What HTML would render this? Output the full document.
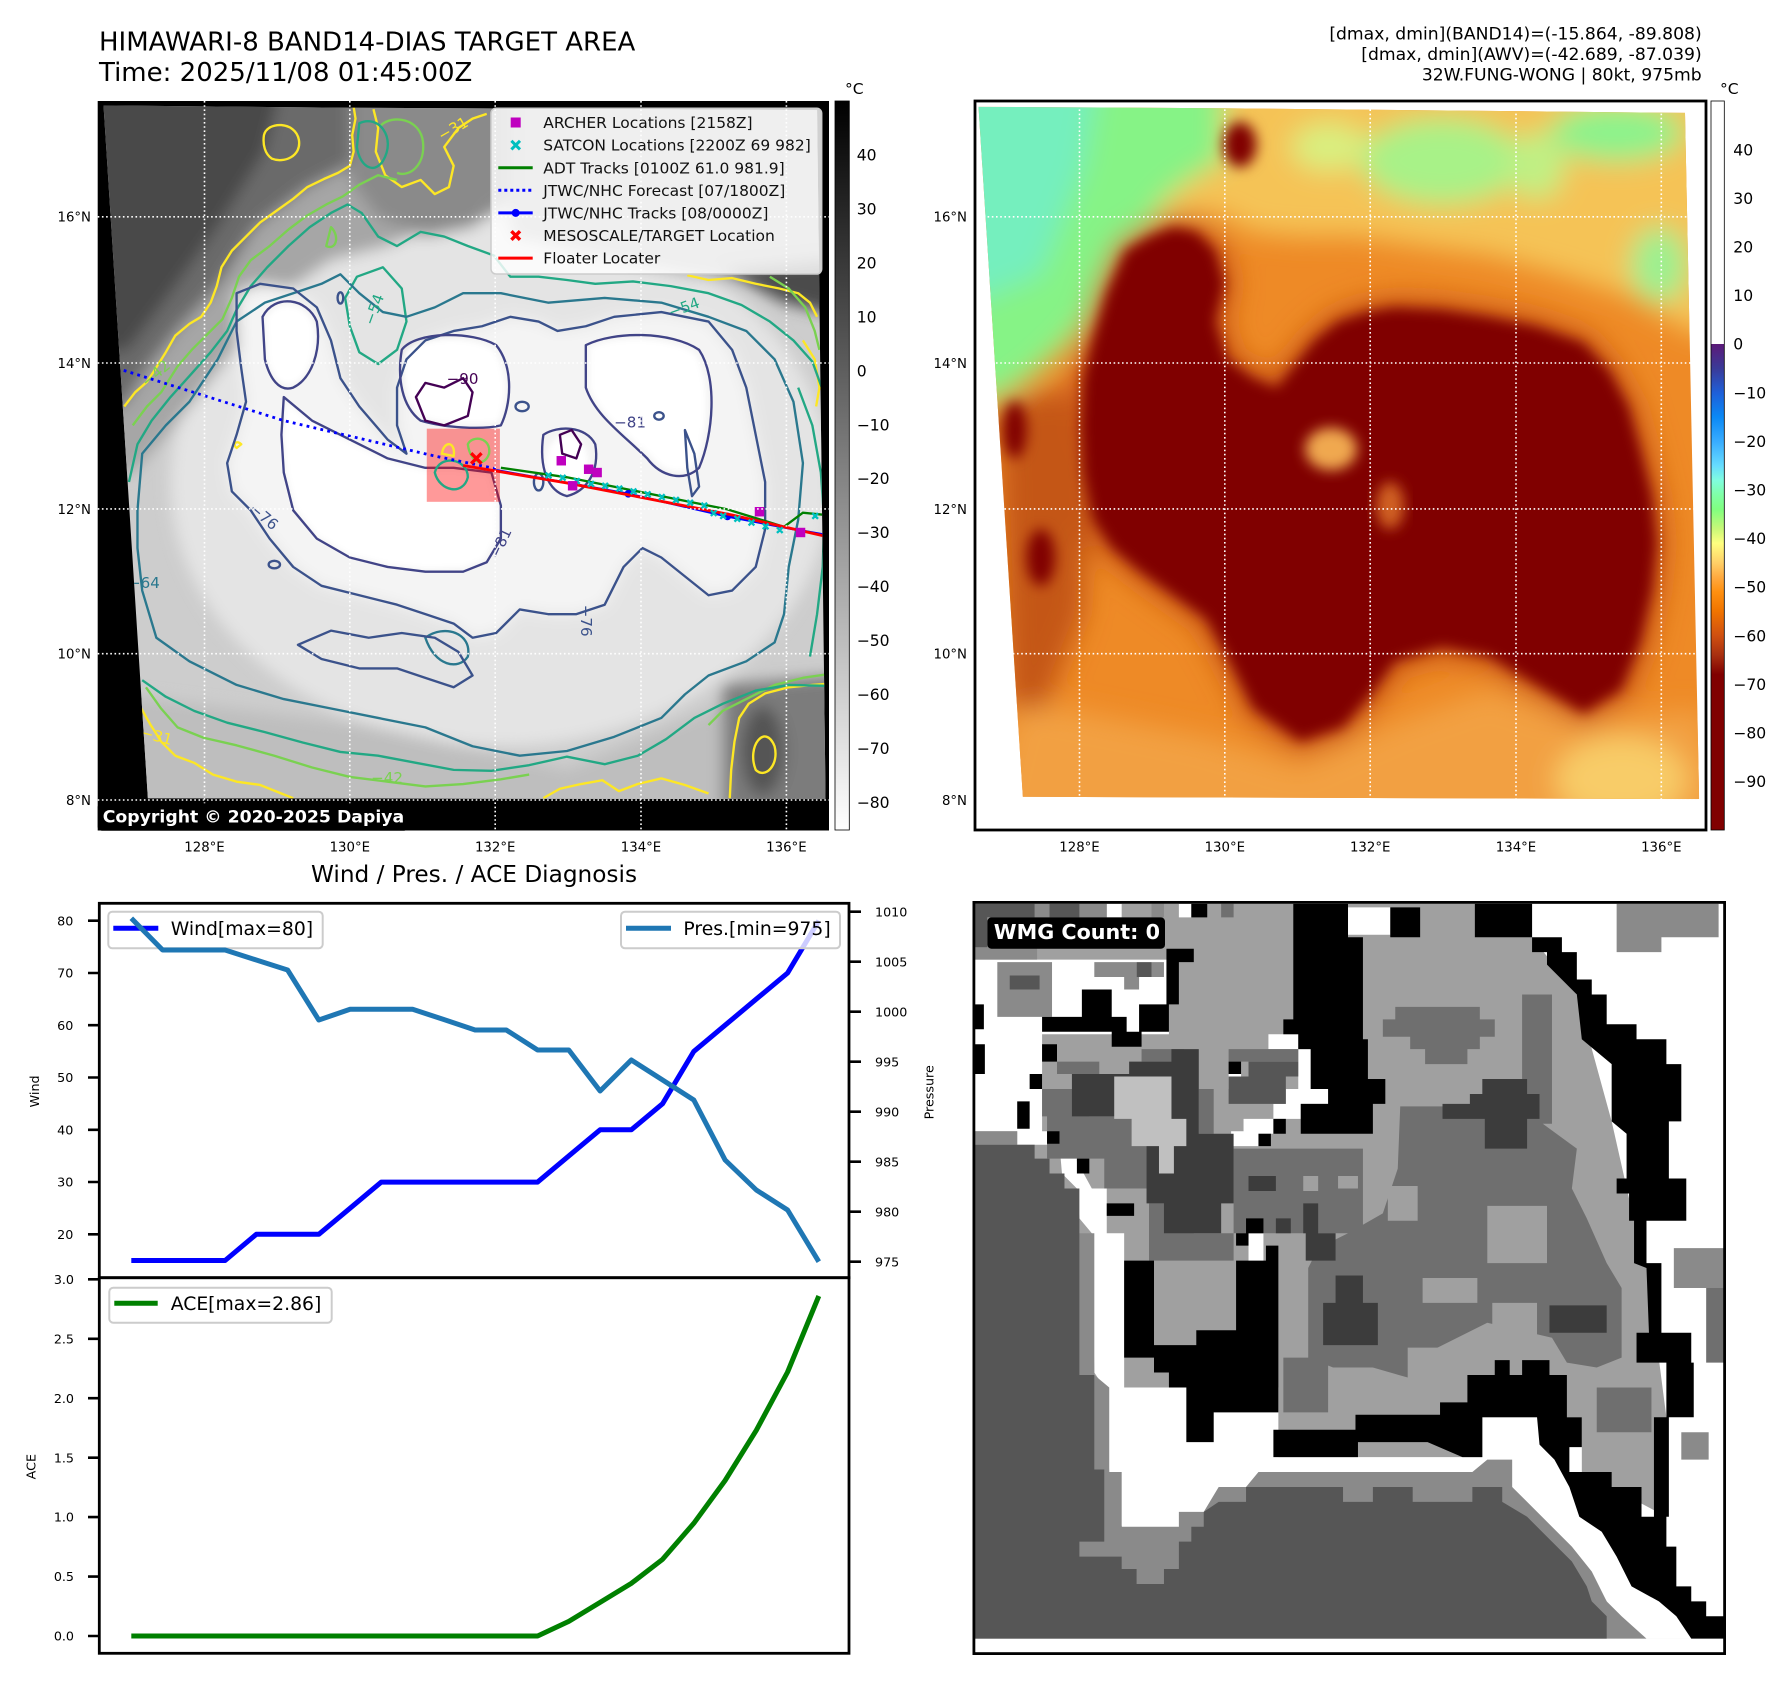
<!DOCTYPE html>
<html><head><meta charset="utf-8">
<style>
html,body{margin:0;padding:0;background:#fff;}
svg{display:block;font-family:"DejaVu Sans","Liberation Sans",sans-serif;}
</style></head>
<body>
<svg width="1792" height="1690" viewBox="0 0 1792 1690" xmlns="http://www.w3.org/2000/svg">
<defs>
  <linearGradient id="grayCB" x1="0" y1="0" x2="0" y2="1">
    <stop offset="0" stop-color="#000"/><stop offset="1" stop-color="#fff"/>
  </linearGradient>
  <linearGradient id="awvCB" x1="0" y1="0" x2="0" y2="1">
    <stop offset="0" stop-color="#fff"/><stop offset="0.3333" stop-color="#fff"/>
    <stop offset="0.3334" stop-color="#5c1a78"/>
    <stop offset="0.3667" stop-color="#3a3a98"/>
    <stop offset="0.4" stop-color="#1f5fd8"/>
    <stop offset="0.4333" stop-color="#0a88f5"/>
    <stop offset="0.4667" stop-color="#38acff"/>
    <stop offset="0.5" stop-color="#66dcff"/>
    <stop offset="0.52" stop-color="#80fde0"/>
    <stop offset="0.54" stop-color="#80ffa8"/>
    <stop offset="0.56" stop-color="#80ff80"/>
    <stop offset="0.5867" stop-color="#c8f878"/>
    <stop offset="0.6067" stop-color="#ffff80"/>
    <stop offset="0.6333" stop-color="#ffd068"/>
    <stop offset="0.6533" stop-color="#ffaa40"/>
    <stop offset="0.6733" stop-color="#ff9010"/>
    <stop offset="0.7" stop-color="#f07400"/>
    <stop offset="0.7333" stop-color="#d05010"/>
    <stop offset="0.76" stop-color="#a83010"/>
    <stop offset="0.7867" stop-color="#800000"/>
    <stop offset="1" stop-color="#800000"/>
  </linearGradient>
  <clipPath id="clipTL"><path d="M18,22 L540,27 L1530,32 L1548,1492 L112,1490 Z"/></clipPath>
  <clipPath id="clipTR"><path d="M18,25 L530,28 L1515,38 L1545,1492 L112,1487 Z"/></clipPath>
  <filter id="blurBig" x="-30%" y="-30%" width="160%" height="160%"><feGaussianBlur stdDeviation="28"/></filter>
  <filter id="blurTLf" x="-30%" y="-30%" width="160%" height="160%"><feGaussianBlur stdDeviation="16"/></filter>
  <filter id="blurMid" x="-30%" y="-30%" width="160%" height="160%"><feGaussianBlur stdDeviation="14"/></filter>
  <filter id="blurSm" x="-30%" y="-30%" width="160%" height="160%"><feGaussianBlur stdDeviation="6"/></filter>
</defs>
<rect width="1792" height="1690" fill="#fff"/>

<!-- Titles -->
<text x="99" y="50.7" font-size="26" fill="#000">HIMAWARI-8 BAND14-DIAS TARGET AREA</text>
<text x="99" y="81" font-size="26" fill="#000">Time: 2025/11/08 01:45:00Z</text>
<g font-size="17.2" text-anchor="end" fill="#000">
  <text x="1701.7" y="39.6">[dmax, dmin](BAND14)=(-15.864, -89.808)</text>
  <text x="1701.7" y="60">[dmax, dmin](AWV)=(-42.689, -87.039)</text>
  <text x="1701.7" y="80.4">32W.FUNG-WONG | 80kt, 975mb</text>
</g>

<!-- ================= TOP-LEFT MAP ================= -->
<rect x="97.7" y="101" width="731.3" height="729.5" fill="#000"/>
<g transform="translate(95,95) scale(0.47194)">
 <g clip-path="url(#clipTL)">
  <rect x="-50" y="-50" width="1700" height="1700" fill="#cdcdcd"/>
  <g filter="url(#blurTLf)">
    <ellipse cx="860" cy="820" rx="700" ry="560" fill="#e4e4e4"/>
    <path d="M-200,-200 L760,-200 L760,260 L620,320 L500,350 L400,420 L320,510 L240,610 L160,710 L80,800 L-200,820Z" fill="#a6a6a6"/>
    <path d="M300,420 L350,400 L420,410 L470,450 L500,520 L520,600 L560,660 L620,730 L660,760 L640,700 L640,620 L660,560 L700,520 L760,500 L820,490 L880,470 L940,480 L980,500 L1040,490 L1100,470 L1200,460 L1300,480 L1350,540 L1380,620 L1400,720 L1420,820 L1420,920 L1400,1000 L1350,1050 L1300,1060 L1250,1020 L1200,980 L1160,960 L1120,1000 L1080,1080 L1020,1100 L960,1100 L900,1090 L850,1140 L800,1150 L760,1120 L700,1100 L640,1080 L560,1060 L480,1040 L420,1000 L370,940 L330,880 L290,840 L280,780 L300,720 L320,650 L310,580 L300,500 Z" fill="#f4f4f4"/>
    <path d="M-200,-200 L560,-200 L555,140 L450,195 L340,280 L265,400 L180,490 L110,580 L60,660 L-200,700Z" fill="#6a6a6a"/>
    <path d="M-200,-200 L440,-200 L360,120 L260,280 L160,420 L70,540 L-200,580Z" fill="#4a4a4a"/>
    <path d="M540,-200 L880,-200 L880,220 L800,280 L700,300 L600,260 L540,180Z" fill="#8a8a8a"/>
    <path d="M880,-200 L1700,-200 L1700,440 L1400,400 L1250,380 L1050,340 L880,300Z" fill="#a4a4a4"/>
    <path d="M1330,370 L1700,330 L1700,500 L1460,440Z" fill="#4c4c4c"/>
    <path d="M60,1270 L600,1340 L1000,1430 L1340,1290 L1340,1700 L60,1700Z" fill="#bebebe"/>
    <path d="M1330,1250 L1700,1220 L1700,1700 L1330,1700Z" fill="#7c7c7c"/>
    <ellipse cx="1415" cy="1390" rx="45" ry="95" fill="#555"/>
  </g>
  <g filter="url(#blurSm)" fill="#fff">
    <path d="M405,650 L460,695 L540,735 L620,775 L700,795 L760,795 L835,805 L852,870 L852,935 L825,985 L780,1002 L700,1004 L620,995 L540,975 L472,935 L425,878 L405,800 L400,720 Z"/>
    <path d="M362,475 C385,430 445,440 462,485 C472,540 455,595 420,612 C392,620 375,595 366,560 Z"/>
    <path d="M658,545 C690,510 795,510 842,538 C878,585 872,655 854,692 C815,700 745,698 696,684 C660,655 650,600 658,545 Z"/>
    <path d="M1048,535 C1105,510 1215,510 1272,548 C1305,605 1300,715 1272,780 C1245,808 1205,800 1178,765 C1125,718 1068,678 1048,620 Z"/>
    <ellipse cx="1000" cy="780" rx="45" ry="60"/>
  </g>
  <!-- contours -->
  <g fill="none" stroke-width="5" stroke-linejoin="round">
   <g stroke="#fde725">
    <path d="M62,660 L85,630 L110,608 L125,585 L150,545 L170,510 L200,485 L225,470 L245,440 L258,405 L268,365 L290,330 L320,300 L350,270 L385,245 L420,220 L450,195 L485,178 L515,165 L540,150 L548,120 L545,85 L552,50 L548,25"/>
    <path d="M358,85 C365,55 425,55 432,95 C438,130 400,145 375,135 C360,125 355,105 358,85Z"/>
    <path d="M590,30 L600,70 L595,120 L615,170 L650,195 L690,180 L720,210 L750,195 L760,150 L740,110 L770,70 L800,50 L830,40"/>
    <path d="M1255,382 L1300,392 L1350,388 L1400,400 L1450,410 L1490,420 L1515,440 L1530,470"/>
    <path d="M1500,520 L1525,560 L1535,620 L1528,660"/>
    <path d="M98,1300 L118,1335 L140,1370 L170,1400 L210,1415 L250,1440 L300,1455 L350,1462 L395,1480 L420,1490"/>
    <path d="M1345,1490 L1348,1430 L1355,1370 L1365,1320 L1385,1290 L1420,1268 L1470,1255 L1520,1250 L1548,1248"/>
    <path d="M950,1490 L985,1470 L1030,1460 L1075,1452 L1110,1475 L1150,1460 L1200,1448 L1250,1462 L1300,1480"/>
    <path d="M1400,1430 C1380,1380 1420,1330 1440,1380 C1450,1420 1420,1450 1400,1430Z"/>
    <path d="M300,748 C290,740 300,730 310,740Z"/>
   </g>
   <g stroke="#7ad151">
    <path d="M80,700 L110,660 L140,630 L175,575 L205,540 L240,505 L270,475 L290,430 L305,385 L330,350 L370,320 L410,285 L450,255 L490,232 L525,215 L560,190 L600,170 L640,180"/>
    <path d="M605,65 C630,40 690,50 695,100 C700,150 665,175 640,165"/>
    <path d="M108,1255 L140,1300 L175,1340 L230,1362 L300,1378 L380,1400 L460,1425 L540,1445 L620,1455 L700,1465 L780,1460 L860,1450 L920,1440"/>
    <path d="M1300,1335 L1330,1305 L1380,1280 L1440,1250 L1500,1235 L1548,1228"/>
    <path d="M1430,385 L1470,410 L1505,450 L1525,500 L1535,540"/>
    <path d="M500,280 C520,300 510,330 490,320Z"/>
   </g>
   <g stroke="#22a884">
    <path d="M72,820 L90,740 L120,690 L160,640 L205,590 L245,545 L280,500 L300,455 L330,405 L365,365 L410,320 L455,280 L500,250 L535,232 L565,250 L600,300 L640,320 L690,290 L740,300 L790,320 L845,340 L880,385 L940,385 L1000,392 L1060,400 L1140,395 L1220,405 L1300,420 L1370,445 L1430,480 L1480,520 L1520,565 L1540,620"/>
    <path d="M100,1240 L150,1275 L210,1305 L280,1330 L360,1350 L440,1372 L520,1392 L600,1400 L680,1415 L760,1430 L840,1432 L920,1420 L1000,1402 L1080,1418 L1150,1400 L1210,1365 L1270,1320 L1330,1290 L1400,1262 L1470,1250 L1548,1252"/>
    <path d="M530,430 L555,385 L610,365 L650,410 L660,480 L640,540 L600,570 L560,545 L540,490Z"/>
    <path d="M1490,620 L1520,700 L1538,800 L1545,900 L1542,1000 L1530,1100 L1515,1190"/>
    <path d="M560,60 C600,40 640,90 610,140 C590,170 560,150 555,110Z"/>
   </g>
   <g stroke="#2a788e">
    <path d="M90,880 L100,760 L150,700 L200,650 L260,560 L300,480 L360,440 L420,420 L480,400 L520,380 L560,420 L610,460 L660,470 L720,450 L780,420 L860,420 L960,440 L1080,430 L1200,440 L1300,470 L1380,500 L1440,560 L1480,650 L1500,780 L1490,900 L1470,1000 L1460,1100 L1440,1160 L1380,1200 L1300,1230 L1250,1270 L1200,1320 L1100,1360 L1000,1390 L900,1400 L800,1380 L700,1340 L600,1320 L500,1300 L400,1280 L300,1250 L200,1200 L130,1150 L100,1050 L90,960 Z"/>
    <path d="M700,1150 C740,1120 800,1140 790,1190 C770,1220 720,1210 700,1150Z"/>
   </g>
   <g stroke="#3b528b">
    <path d="M300,420 L350,400 L420,410 L470,450 L500,520 L520,600 L560,660 L620,730 L660,760 L640,700 L640,620 L660,560 L700,520 L760,500 L820,490 L880,470 L940,480 L980,500 L1040,490 L1100,470 L1200,460 L1300,480 L1350,540 L1380,620 L1400,720 L1420,820 L1420,920 L1400,1000 L1350,1050 L1300,1060 L1250,1020 L1200,980 L1160,960 L1120,1000 L1080,1080 L1020,1100 L960,1100 L900,1090 L850,1140 L800,1150 L760,1120 L700,1100 L640,1080 L560,1060 L480,1040 L420,1000 L370,940 L330,880 L290,840 L280,780 L300,720 L320,650 L310,580 L300,500 Z"/>
    <path d="M430,1165 L500,1135 L580,1150 L650,1140 L720,1150 L770,1180 L800,1230 L760,1255 L700,1235 L640,1215 L560,1215 L480,1195Z"/>
    <ellipse cx="520" cy="430" rx="6" ry="12"/>
    <ellipse cx="940" cy="820" rx="10" ry="18"/>
    <ellipse cx="905" cy="660" rx="14" ry="10"/>
    <ellipse cx="380" cy="995" rx="12" ry="8"/>
    <ellipse cx="1195" cy="680" rx="10" ry="8"/>
    <path d="M1250,710 L1270,760 L1280,830 L1265,850 L1255,790Z"/>
   </g>
   <g stroke="#414487">
    <path d="M400,640 L460,690 L540,730 L620,770 L700,790 L760,790 L840,800 L860,870 L860,940 L830,990 L780,1010 L700,1010 L620,1000 L540,980 L470,940 L420,880 L400,800 L395,720 Z"/>
    <path d="M355,470 C380,420 450,430 470,480 C480,540 460,600 420,620 C390,630 370,600 360,560 Z"/>
    <path d="M650,540 C680,500 800,500 850,530 C890,580 880,660 860,700 C820,710 740,705 690,690 C650,660 640,600 650,540 Z"/>
    <path d="M1040,530 C1100,500 1220,500 1280,540 C1320,600 1310,720 1280,790 C1250,820 1200,810 1170,770 C1120,720 1060,680 1040,620 Z"/>
    <path d="M950,720 C980,700 1040,700 1060,740 C1070,800 1040,840 1000,850 C960,840 940,790 950,720 Z"/>
   </g>
   <g stroke="#440154">
    <path d="M680,640 L700,610 L740,620 L780,600 L800,630 L790,680 L740,700 L700,690 Z"/>
    <path d="M985,720 L1010,710 L1030,740 L1020,770 L990,760 Z"/>
   </g>
  </g>
  <g font-size="32">
    <text x="745" y="612" fill="#440154">−90</text>
    <text x="1100" y="705" fill="#414487">−81</text>
    <text x="325" y="880" fill="#3b528b" transform="rotate(40 325 880)">−76</text>
    <text x="1220" y="472" fill="#22a884" transform="rotate(-20 1220 472)">−54</text>
    <text x="590" y="490" fill="#22a884" transform="rotate(-70 590 490)">−54</text>
    <text x="70" y="1045" fill="#2a788e">−64</text>
    <text x="735" y="98" fill="#fde725" transform="rotate(-30 735 98)">−31</text>
    <text x="585" y="1458" fill="#7ad151">−42</text>
    <text x="855" y="985" fill="#414487" transform="rotate(-65 855 985)">−81</text>
    <text x="1030" y="1080" fill="#3b528b" transform="rotate(90 1030 1080)">−76</text>
    <text x="95" y="1360" fill="#fde725" transform="rotate(15 95 1360)">−31</text>
    <text x="110" y="620" fill="#7ad151" transform="rotate(-40 110 620)">−42</text>
  </g>
  <!-- tracks -->
  <rect x="703" y="707" width="155" height="155" fill="#ff0000" fill-opacity="0.4"/>
  <g fill="none" stroke-width="5">
    <path d="M735,760 C740,730 765,735 760,765Z" stroke="#fde725"/>
    <path d="M720,800 C730,760 790,770 790,810 C780,850 730,840 720,800Z" stroke="#22a884"/>
    <path d="M790,740 C800,720 840,725 835,760 C825,790 795,780 790,740Z" stroke="#7ad151"/>
  </g>
  <path d="M18,570 L400,690 L720,765 L850,792" fill="none" stroke="#0000ff" stroke-width="6" stroke-dasharray="6,9"/>
  <path d="M860,790 L1000,810 L1200,850 L1340,878 L1460,915 L1500,885 L1548,890" fill="none" stroke="#008000" stroke-width="5"/>
  <path d="M850,795 L1130,845 L1340,893 L1480,920 L1548,932" fill="none" stroke="#0000ff" stroke-width="5"/>
  <circle cx="1130" cy="845" r="8" fill="#0000ff"/><circle cx="1340" cy="893" r="8" fill="#0000ff"/>
  <path d="M780,785 L1000,822 L1350,890 L1548,935" fill="none" stroke="#ff0000" stroke-width="6"/>
  <path d="M955,800l12,12m0,-12l-12,12 M985,805l12,12m0,-12l-12,12 M1015,812l12,12m0,-12l-12,12 M1045,818l12,12m0,-12l-12,12 M1075,822l12,12m0,-12l-12,12 M1105,828l12,12m0,-12l-12,12 M1135,834l12,12m0,-12l-12,12 M1165,840l12,12m0,-12l-12,12 M1195,846l12,12m0,-12l-12,12 M1225,852l12,12m0,-12l-12,12 M1255,858l12,12m0,-12l-12,12 M1285,864l12,12m0,-12l-12,12 M1305,880l12,12m0,-12l-12,12 M1325,886l12,12m0,-12l-12,12 M1355,892l12,12m0,-12l-12,12 M1385,900l12,12m0,-12l-12,12 M1415,908l12,12m0,-12l-12,12 M1445,916l12,12m0,-12l-12,12 M1520,886l12,12m0,-12l-12,12" stroke="#00bfbf" stroke-width="5" fill="none"/>
  <path d="M797,759 L819,781 M819,759 L797,781" stroke="#ff0000" stroke-width="7"/>
  <g fill="#bf00bf">
    <rect x="978" y="765" width="20" height="20"/>
    <rect x="1036" y="783" width="20" height="20"/>
    <rect x="1054" y="790" width="20" height="20"/>
    <rect x="1002" y="818" width="20" height="20"/>
    <rect x="1398" y="873" width="20" height="20"/>
    <rect x="1485" y="917" width="20" height="20"/>
  </g>
 </g>
</g>
<!-- TL gridlines -->
<g stroke="#fff" stroke-width="1.6" stroke-dasharray="1.6,2.6" fill="none">
  <path d="M204.5,101V830.5M349.8,101V830.5M495.2,101V830.5M641,101V830.5M786.4,101V830.5"/>
  <path d="M97.7,216.8H829M97.7,363H829M97.7,508.9H829M97.7,653.7H829M97.7,800H829"/>
</g>
<!-- TL legend -->
<rect x="491" y="108.3" width="330.7" height="165.7" rx="5" fill="#fff" fill-opacity="0.82" stroke="#cccccc" stroke-width="1.5"/>
<rect x="510.7" y="117.5" width="10" height="10" fill="#bf00bf"/>
<path d="M511.4,140.8 L520,149.4 M520,140.8 L511.4,149.4" stroke="#00bfbf" stroke-width="3"/>
<path d="M498.3,167.7H532.7" stroke="#008000" stroke-width="3"/>
<path d="M498.3,190.3H532.7" stroke="#0000ff" stroke-width="3" stroke-dasharray="3,3"/>
<path d="M498.3,212.9H532.7" stroke="#0000ff" stroke-width="3"/><circle cx="515.7" cy="212.9" r="4" fill="#0000ff"/>
<path d="M511.4,231.2 L520,239.8 M520,231.2 L511.4,239.8" stroke="#ff0000" stroke-width="3.5"/>
<path d="M498.3,258.1H532.7" stroke="#ff0000" stroke-width="3"/>
<g font-size="15.5" fill="#111">
  <text x="543.3" y="128.1">ARCHER Locations [2158Z]</text>
  <text x="543.3" y="150.7">SATCON Locations [2200Z 69 982]</text>
  <text x="543.3" y="173.3">ADT Tracks [0100Z 61.0 981.9]</text>
  <text x="543.3" y="195.9">JTWC/NHC Forecast [07/1800Z]</text>
  <text x="543.3" y="218.5">JTWC/NHC Tracks [08/0000Z]</text>
  <text x="543.3" y="241.1">MESOSCALE/TARGET Location</text>
  <text x="543.3" y="263.7">Floater Locater</text>
</g>
<!-- copyright -->
<rect x="97.7" y="803.3" width="310.6" height="27.4" rx="4" fill="#000"/>
<text x="102.7" y="822.3" font-size="17.3" font-weight="bold" fill="#fff">Copyright © 2020-2025 Dapiya</text>
<!-- TL axis labels -->
<g font-size="13.3" fill="#000" text-anchor="end">
  <text x="91" y="221.7">16°N</text><text x="91" y="367.9">14°N</text><text x="91" y="513.8">12°N</text><text x="91" y="658.6">10°N</text><text x="91" y="804.9">8°N</text>
</g>
<g font-size="13.3" fill="#000" text-anchor="middle">
  <text x="204.5" y="851.6">128°E</text><text x="349.8" y="851.6">130°E</text><text x="495.2" y="851.6">132°E</text><text x="641" y="851.6">134°E</text><text x="786.4" y="851.6">136°E</text>
</g>
<!-- TL colorbar -->
<rect x="835" y="101" width="14.3" height="729" fill="url(#grayCB)" stroke="#000" stroke-width="0.8"/>
<text x="845" y="93.9" font-size="15.5">°C</text>
<g font-size="15.6" fill="#000">
  <text x="856.7" y="160.6">40</text><text x="856.7" y="214.6">30</text><text x="856.7" y="268.5">20</text><text x="856.7" y="322.4">10</text><text x="856.7" y="376.4">0</text>
  <text x="856.7" y="430.3">−10</text><text x="856.7" y="484.2">−20</text><text x="856.7" y="538.1">−30</text><text x="856.7" y="592.1">−40</text><text x="856.7" y="646">−50</text>
  <text x="856.7" y="699.9">−60</text><text x="856.7" y="753.8">−70</text><text x="856.7" y="807.8">−80</text>
</g>

<!-- ================= TOP-RIGHT MAP ================= -->
<rect x="975" y="101" width="731" height="729" fill="#fff"/>
<g transform="translate(970,95) scale(0.47194)">
 <g clip-path="url(#clipTR)">
  <rect x="-50" y="-50" width="1700" height="1700" fill="#ee8a26"/>
  <g filter="url(#blurBig)">
    <path d="M-200,-200 L1800,-200 L1800,560 L1520,500 L1400,430 L1250,380 L1100,340 L950,320 L820,300 L700,300 L600,290 L520,250 L440,250 L380,300 L320,380 L260,470 L200,540 L120,610 L40,660 L-200,700Z" fill="#f5c356"/>
    <path d="M-200,-200 L540,-200 L535,140 L480,170 L420,215 L370,280 L320,360 L270,440 L210,520 L140,585 L70,635 L-200,680Z" fill="#86f386"/>
    <path d="M-200,-200 L300,-200 L240,150 L150,380 L-200,520Z" fill="#74efbe"/>
    <ellipse cx="1000" cy="140" rx="170" ry="90" fill="#a8f288"/>
    <ellipse cx="1370" cy="80" rx="140" ry="60" fill="#8cf38c"/>
    <ellipse cx="1460" cy="360" rx="60" ry="80" fill="#9cf090"/>
    <ellipse cx="760" cy="110" rx="80" ry="50" fill="#d8f080"/>
    <ellipse cx="1200" cy="150" rx="60" ry="70" fill="#c0f084"/>
    <path d="M100,1280 L500,1360 L700,1420 L900,1330 L1100,1260 L1300,1330 L1545,1300 L1700,1700 L0,1700Z" fill="#f2a042"/>
    <ellipse cx="1380" cy="1450" rx="140" ry="90" fill="#f8cc68"/>
    <path d="M330,330 L290,420 L260,520 L240,600 L235,700 L240,800 L260,900 L300,960 L360,1010 L430,1060 L500,1110 L550,1200 L600,1300 L700,1370 L790,1340 L850,1270 L900,1200 L1000,1170 L1100,1190 L1200,1250 L1300,1310 L1380,1260 L1420,1160 L1445,1050 L1455,950 L1445,850 L1420,750 L1395,660 L1355,585 L1300,525 L1200,490 L1100,470 L1000,455 L900,450 L840,460 L780,480 L730,520 L690,570 L650,620 L600,600 L545,560 L520,480 L540,400 L520,330 L480,290 L430,280 L380,300 Z" fill="#cc5812" stroke="#cc5812" stroke-width="50" stroke-linejoin="round"/>
    <path d="M60,650 L200,620 L260,800 L240,1100 L160,1300 L80,1300Z" fill="#c45612"/>
  </g>
  <g filter="url(#blurMid)" fill="#800000">
    <path d="M330,330 L290,420 L260,520 L240,600 L235,700 L240,800 L260,900 L300,960 L360,1010 L430,1060 L500,1110 L550,1200 L600,1300 L700,1370 L790,1340 L850,1270 L900,1200 L1000,1170 L1100,1190 L1200,1250 L1300,1310 L1380,1260 L1420,1160 L1445,1050 L1455,950 L1445,850 L1420,750 L1395,660 L1355,585 L1300,525 L1200,490 L1100,470 L1000,455 L900,450 L840,460 L780,480 L730,520 L690,570 L650,620 L600,600 L545,560 L520,480 L540,400 L520,330 L480,290 L430,280 L380,300 Z"/>
    <ellipse cx="572" cy="105" rx="35" ry="48"/>
    <ellipse cx="95" cy="710" rx="25" ry="60"/>
    <ellipse cx="150" cy="980" rx="30" ry="60"/>
  </g>
  <ellipse cx="765" cy="750" rx="55" ry="45" fill="#f0a850" filter="url(#blurMid)"/>
  <ellipse cx="890" cy="870" rx="30" ry="50" fill="#d06020" filter="url(#blurMid)"/>
 </g>
</g>
<g stroke="#fff" stroke-width="1.6" stroke-dasharray="1.6,2.6" fill="none">
  <path d="M1079.5,101V830M1224.8,101V830M1370.2,101V830M1516,101V830M1661.3,101V830"/>
  <path d="M975,216.8H1706M975,363H1706M975,508.9H1706M975,653.7H1706M975,800H1706"/>
</g>
<rect x="975" y="101" width="731" height="729" fill="none" stroke="#000" stroke-width="2.8"/>
<g font-size="13.3" fill="#000" text-anchor="end">
  <text x="967" y="221.7">16°N</text><text x="967" y="367.9">14°N</text><text x="967" y="513.8">12°N</text><text x="967" y="658.6">10°N</text><text x="967" y="804.9">8°N</text>
</g>
<g font-size="13.3" fill="#000" text-anchor="middle">
  <text x="1079.5" y="851.6">128°E</text><text x="1224.8" y="851.6">130°E</text><text x="1370.2" y="851.6">132°E</text><text x="1516" y="851.6">134°E</text><text x="1661.3" y="851.6">136°E</text>
</g>
<rect x="1711" y="101" width="13.3" height="729" fill="url(#awvCB)" stroke="#000" stroke-width="0.8"/>
<text x="1720" y="93.9" font-size="15.5">°C</text>
<g font-size="15.6" fill="#000">
  <text x="1733.3" y="155.3">40</text><text x="1733.3" y="203.9">30</text><text x="1733.3" y="252.5">20</text><text x="1733.3" y="301.1">10</text><text x="1733.3" y="349.7">0</text>
  <text x="1733.3" y="398.3">−10</text><text x="1733.3" y="446.9">−20</text><text x="1733.3" y="495.5">−30</text><text x="1733.3" y="544.1">−40</text><text x="1733.3" y="592.7">−50</text>
  <text x="1733.3" y="641.3">−60</text><text x="1733.3" y="689.9">−70</text><text x="1733.3" y="738.5">−80</text><text x="1733.3" y="787.1">−90</text>
</g>

<!-- ================= BOTTOM-LEFT CHART ================= -->
<text x="474" y="881.8" font-size="23.2" text-anchor="middle">Wind / Pres. / ACE Diagnosis</text>
<g stroke="#000" stroke-width="2.6">
  <path d="M88,920.7H99.3M88,973H99.3M88,1025.2H99.3M88,1077.5H99.3M88,1129.8H99.3M88,1182H99.3M88,1234.3H99.3"/>
  <path d="M849,911.7H861M849,961.7H861M849,1011.7H861M849,1061.7H861M849,1111.7H861M849,1161.7H861M849,1211.7H861M849,1261.7H861"/>
  <path d="M88,1279.3H99.3M88,1338.8H99.3M88,1398.2H99.3M88,1457.7H99.3M88,1517.1H99.3M88,1576.6H99.3M88,1636H99.3"/>
</g>
<g font-size="12.7" fill="#000" text-anchor="end">
  <text x="73.3" y="925.3">80</text><text x="73.3" y="977.6">70</text><text x="73.3" y="1029.8">60</text><text x="73.3" y="1082.1">50</text><text x="73.3" y="1134.4">40</text><text x="73.3" y="1186.6">30</text><text x="73.3" y="1238.9">20</text>
  <text x="74" y="1283.9">3.0</text><text x="74" y="1343.4">2.5</text><text x="74" y="1402.8">2.0</text><text x="74" y="1462.3">1.5</text><text x="74" y="1521.7">1.0</text><text x="74" y="1581.2">0.5</text><text x="74" y="1640.6">0.0</text>
</g>
<g font-size="12.7" fill="#000">
  <text x="875" y="916.3">1010</text><text x="875" y="966.3">1005</text><text x="875" y="1016.3">1000</text><text x="875" y="1066.3">995</text><text x="875" y="1116.3">990</text><text x="875" y="1166.3">985</text><text x="875" y="1216.3">980</text><text x="875" y="1266.3">975</text>
</g>
<g font-size="12.7" fill="#000" text-anchor="middle">
  <text transform="translate(38.9,1091.4) rotate(-90)">Wind</text>
  <text transform="translate(933.6,1092.3) rotate(-90)">Pressure</text>
  <text transform="translate(35.3,1466.7) rotate(-90)">ACE</text>
</g>
<polyline fill="none" stroke="#0000ff" stroke-width="5" stroke-linejoin="round" points="131.3,1260.5 162.6,1260.5 193.8,1260.5 225.1,1260.5 256.3,1234.3 287.6,1234.3 318.8,1234.3 350.1,1208.2 381.3,1182.1 412.6,1182.1 443.8,1182.1 475.1,1182.1 506.3,1182.1 537.6,1182.1 568.8,1155.9 600.1,1129.8 631.3,1129.8 662.6,1103.7 693.8,1051.4 725.1,1025.2 756.3,999.1 787.6,973 818.8,920.7"/>
<rect x="108.3" y="911.7" width="214.4" height="36.6" rx="4" fill="#fff" fill-opacity="0.8" stroke="#cccccc" stroke-width="2"/>
<path d="M113.3,928.3H158.3" stroke="#0000ff" stroke-width="5"/>
<text x="170.7" y="935.2" font-size="18.8">Wind[max=80]</text>
<polyline fill="none" stroke="#1f77b4" stroke-width="5" stroke-linejoin="round" points="131.3,918.3 162.6,950 193.8,950 225.1,950 256.3,960 287.6,970 318.8,1020 350.1,1009.3 381.3,1009.3 412.6,1009.3 443.8,1019.5 475.1,1030 506.3,1030 537.6,1050 568.8,1050 600.1,1091 631.3,1060 662.6,1080 693.8,1100 725.1,1160 756.3,1190 787.6,1210 818.8,1261.7"/>
<rect x="621" y="911.7" width="219" height="36.6" rx="4" fill="#fff" fill-opacity="0.8" stroke="#cccccc" stroke-width="2"/>
<path d="M626,928.3H671" stroke="#1f77b4" stroke-width="5"/>
<text x="683.4" y="935.2" font-size="18.8">Pres.[min=975]</text>
<polyline fill="none" stroke="#008000" stroke-width="5" stroke-linejoin="round" points="131.3,1636 162.6,1636 193.8,1636 225.1,1636 256.3,1636 287.6,1636 318.8,1636 350.1,1636 381.3,1636 412.6,1636 443.8,1636 475.1,1636 506.3,1636 537.6,1636 568.8,1621.4 600.1,1602.4 631.3,1583.4 662.6,1559.3 693.8,1523.3 725.1,1480.5 756.3,1430.3 787.6,1372 818.8,1296"/>
<rect x="109.3" y="1287.7" width="222.4" height="35" rx="4" fill="#fff" fill-opacity="0.8" stroke="#cccccc" stroke-width="2"/>
<path d="M114.3,1303.3H157.7" stroke="#008000" stroke-width="5"/>
<text x="170.7" y="1310.2" font-size="18.8">ACE[max=2.86]</text>
<rect x="99.3" y="903.3" width="749.7" height="374.4" fill="none" stroke="#000" stroke-width="2.8"/>
<rect x="99.3" y="1277.7" width="749.7" height="375.6" fill="none" stroke="#000" stroke-width="2.8"/>

<!-- ================= BOTTOM-RIGHT PANEL ================= -->
<g transform="translate(960,890) scale(0.49745)">
  <path d="M30 28H1535V1505H30Z" fill="#a0a0a0"/>
  <path d="M30 1505H1535V1533H30Z" fill="#fff"/>
  <path fill="#fff" d="M30 140H420V290H30Z M30 290H165V485H30Z M115 485H200V512H115Z
    M200 512L235 512L235 545L265 600L295 600L295 745L265 745L265 690L240 660L235 600L205 570Z
    M265 690L330 690L330 1000L640 1000L640 1140L1050 1140L1050 1060L1250 1060L1250 1170L1420 1260L1535 1400L1535 1505L1330 1505L1300 1430L1250 1350L1140 1260L1110 1200L640 1200L520 1230L440 1300L330 1300L300 1170L290 1000L270 970Z
    M1150 28L1535 28L1535 1460L1440 1400L1420 1260L1420 1060L1380 750L1355 665L1310 465L1240 210L1150 95Z
    M295 28H325V55H295Z M440 28H465V55H440Z M780 35H865V90H780Z
    M620 290H680V320H620Z M680 320H705V400H680Z M655 400H740V430H655Z M630 430H685V460H630Z M570 460H630V490H570Z M545 485H600V515H545Z M540 370H565V400H540Z M580 690H610V775H580Z"/>
  <path fill="#8a8a8a" d="M240 690L270 690L270 975L300 1000L300 1170L325 1170L325 1280L440 1280L440 1250L490 1250L520 1200L575 1200L600 1170L1030 1170L1060 1145L1110 1145L1110 1200L1170 1260L1230 1320L1270 1370L1300 1430L1330 1460L1380 1505L30 1505L30 690Z
    M30 485H115V512H30Z M75 145H185V255H75Z M270 145H355V175H270Z M385 145H410V175H385Z M330 175H360V200H330Z
    M150 28H180V55H150Z M240 28H295V55H240Z M385 28H410V55H385Z M30 115H155V140H30Z
    M1320 28H1525V95H1320Z M1320 95H1410V125H1320Z M1435 720H1535V800H1435Z M1450 1090H1505V1145H1450Z"/>
  <path fill="#565656" d="M30 512L150 512L150 540L180 540L180 570L210 570L210 600L240 600L240 975L270 975L270 1165L290 1165L290 1310L240 1310L240 1340L325 1340L325 1365L355 1365L355 1395L410 1395L410 1365L440 1365L440 1310L465 1310L465 1280L490 1280L490 1250L520 1230L575 1230L575 1200L770 1200L770 1230L830 1230L830 1200L910 1200L910 1230L1030 1230L1030 1200L1090 1200L1090 1230L1140 1260L1170 1290L1200 1320L1230 1350L1260 1400L1270 1430L1300 1460L1300 1505L30 1505Z
    M30 28H150V55H30Z M180 28H240V55H180Z M30 55H55V115H30Z M100 172H160V200H100Z M355 145H385V175H355Z M540 375H655V430H540Z M580 345H680V375H580Z"/>
  <path fill="#6f6f6f" d="M885 435L1060 435L1165 465L1240 520L1230 600L1260 660L1300 750L1330 800L1330 940L1280 960L1220 950L1190 900L1060 870L960 920L900 980L830 960L750 960L700 940L700 760L720 720L780 690L850 650L880 560Z
    M195 345H280V370H195Z M165 400H260V455H165Z M175 455H380V540H175Z M290 540H380V600H290Z M380 630H470V745H380Z M410 690H550V745H410Z M480 400H510V490H480Z M365 320H450V345H365Z M540 320H680V345H540Z
    M550 520H810V690H550Z M875 235H1045V260H875Z M850 260H1075V295H850Z M905 295H1045V320H905Z M935 320H1020V350H935Z M1130 210H1190V470H1130Z
    M650 940H740V1050H650Z M1280 1000H1390V1090H1280Z M1500 800H1535V950H1500Z M525 28H550V55H525Z"/>
  <path fill="#a0a0a0" d="M1060 635H1180V750H1060Z M930 780H1040V830H930Z M1070 830H1160V920H1070Z M900 920H1000V980H900Z M860 595H920V665H860Z M690 575H720V605H690Z M760 575H800V600H760Z"/>
  <path fill="#3c3c3c" d="M225 370H340V455H225Z M340 345H425V375H340Z M425 320H480V490H425Z M375 490H550V630H375Z M410 630H525V690H410Z M580 575H635V605H580Z M635 660H665V690H635Z M690 630H720V690H690Z M695 690H755V745H695Z M755 775H810V830H755Z M730 830H840V915H730Z M1185 835H1300V890H1185Z M1050 380H1140V410H1050Z M1025 410H1165V460H1025Z M970 430H1030V460H970Z M1055 460H1140V520H1055Z"/>
  <path fill="#c0c0c0" d="M310 375H425V460H310Z M345 460H455V515H345Z M400 515H430V570H400Z"/>
  <path fill="#000" d="M330 745L390 745L390 915L475 915L475 885L555 885L555 745L615 745L615 715L640 715L640 1050L510 1050L510 1110L455 1110L455 1000L420 1000L420 970L390 970L390 940L330 940Z
    M630 1085L795 1085L795 1055L965 1055L965 1030L1020 1030L1020 975L1075 975L1075 945L1105 945L1105 975L1130 975L1130 945L1185 945L1185 975L1220 975L1220 1060L1250 1060L1250 1120L1225 1120L1225 1170L1310 1170L1310 1200L1370 1200L1370 1260L1420 1260L1420 1320L1440 1320L1440 1400L1470 1400L1470 1430L1500 1430L1500 1460L1535 1460L1535 1505L1470 1505L1440 1460L1405 1430L1350 1400L1320 1340L1290 1290L1245 1260L1225 1200L1195 1145L1165 1115L1160 1060L1050 1060L1050 1140L1010 1140L940 1110L800 1110L800 1140L630 1140Z
    M1150 95L1210 95L1210 125L1240 125L1240 180L1270 180L1270 210L1300 210L1300 270L1360 270L1360 300L1420 300L1420 350L1450 350L1450 465L1425 465L1425 580L1460 580L1460 665L1380 665L1380 750L1410 750L1410 890L1470 890L1470 950L1475 950L1475 1060L1420 1060L1420 950L1360 950L1360 890L1385 890L1380 760L1355 750L1355 665L1345 665L1345 610L1320 610L1320 580L1340 580L1340 490L1310 465L1310 350L1250 300L1240 210L1180 150L1180 125L1150 125Z
    M670 28L780 28L780 95L810 95L810 300L820 300L820 380L855 380L855 430L830 430L830 490L685 490L685 430L740 430L740 400L705 400L705 320L680 320L680 290L650 290L650 260L670 260Z
    M865 35H925V95H865Z M1035 28H1150V95H1035Z M465 28H497V55H465Z M415 118H440V230H415Z M440 118H470V145H440Z
    M245 200H305V260H245Z M165 255H335V285H165Z M305 285H365V315H305Z M360 230H420V285H360Z M30 230H48V280H30Z M30 310H50V370H30Z
    M165 310H195V345H165Z M140 370H165V400H140Z M115 425H140V480H115Z M175 485H200V510H175Z M235 540H260V570H235Z M295 630H350V655H295Z
    M540 345H565V370H540Z M630 460H655V490H630Z M600 490H625V515H600Z M575 660H610V690H575Z M555 690H580V715H555Z M1395 1060H1425V1260H1395Z"/>
</g>
<rect x="973.9" y="902.4" width="750.7" height="751.2" fill="none" stroke="#000" stroke-width="2.8"/>
<rect x="987.4" y="917.4" width="177.6" height="31.3" rx="4" fill="#000"/>
<text x="993.8" y="938.9" font-size="20.7" font-weight="bold" fill="#fff">WMG Count: 0</text>
</svg>
</body></html>
